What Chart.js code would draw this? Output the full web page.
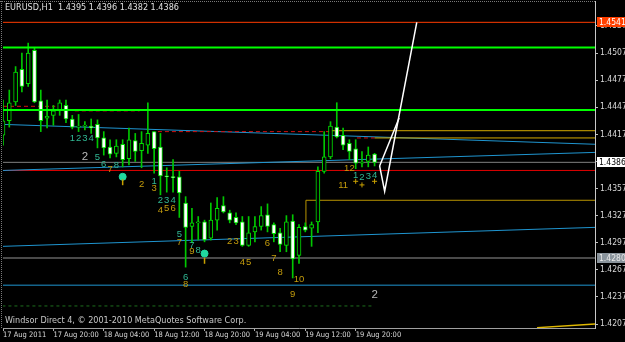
<!DOCTYPE html>
<html>
<head>
<meta charset="utf-8">
<script src="https://cdn.jsdelivr.net/npm/chart.js@4.4.1/dist/chart.umd.min.js"></script>
<style>
  html, body { margin: 0; padding: 0; background: #000; }
</style>
</head>
<body>
<canvas id="chart" width="625" height="342"></canvas>
<script>
const SYMBOL = 'EURUSD,H1';
const COPYRIGHT = 'Windsor Direct 4, \u00a9 2001-2010 MetaQuotes Software Corp.';

// ===== H1 CANDLES (bar 0 = 17 Aug 12:00) =====
const opens = [
  1.4416, 1.4432, 1.4453, 1.4489, 1.4473, 1.4510, 1.4454, 1.4435, 1.4438, 1.4444,
  1.4449, 1.4434, 1.4425, 1.4426, 1.4426, 1.4428, 1.4413, 1.4403, 1.4396, 1.4406,
  1.4390, 1.4410, 1.4399, 1.4405, 1.4420, 1.4403, 1.4371, 1.4370, 1.4370, 1.4341,
  1.4315, 1.4319, 1.4320, 1.4302, 1.4322, 1.4338, 1.4330, 1.4325, 1.4320, 1.4294,
  1.4309, 1.4315, 1.4328, 1.4317, 1.4308, 1.4294, 1.4321, 1.4283, 1.4315, 1.4313,
  1.4320, 1.4376, 1.4392, 1.4425, 1.4416, 1.4407, 1.4401, 1.4385, 1.4387, 1.4395
];
const highs = [
  1.4455, 1.4466, 1.4492, 1.4507, 1.4518, 1.4513, 1.4466, 1.4455, 1.4449, 1.4455,
  1.4455, 1.4438, 1.4439, 1.4431, 1.4434, 1.4433, 1.4420, 1.4411, 1.4411, 1.4411,
  1.4424, 1.4418, 1.4420, 1.4452, 1.4420, 1.4418, 1.4380, 1.4389, 1.4376, 1.4348,
  1.4335, 1.4326, 1.4322, 1.4341, 1.4347, 1.4348, 1.4333, 1.4330, 1.4326, 1.4326,
  1.4326, 1.4337, 1.4340, 1.4319, 1.4313, 1.4327, 1.4328, 1.4317, 1.4319, 1.4320,
  1.4381, 1.4420, 1.4431, 1.4452, 1.4424, 1.4411, 1.4411, 1.4398, 1.4403, 1.4396
];
const lows = [
  1.4405, 1.4425, 1.4449, 1.4464, 1.4470, 1.4452, 1.4420, 1.4424, 1.4427, 1.4438,
  1.4430, 1.4423, 1.4420, 1.4422, 1.4418, 1.4402, 1.4394, 1.4391, 1.4392, 1.4381,
  1.4383, 1.4387, 1.4380, 1.4396, 1.4374, 1.4350, 1.4353, 1.4353, 1.4325, 1.4270,
  1.4297, 1.4300, 1.4298, 1.4300, 1.4311, 1.4330, 1.4319, 1.4317, 1.4293, 1.4293,
  1.4298, 1.4311, 1.4309, 1.4298, 1.4287, 1.4287, 1.4258, 1.4274, 1.4309, 1.4293,
  1.4308, 1.4374, 1.4390, 1.4413, 1.4400, 1.4389, 1.4379, 1.4381, 1.4381, 1.4382
];
const closes = [
  1.4432, 1.4452, 1.4486, 1.4470, 1.4507, 1.4453, 1.4432, 1.4437, 1.4443, 1.4452,
  1.4434, 1.4425, 1.4426, 1.4426, 1.4424, 1.4413, 1.4402, 1.4395, 1.4404, 1.4389,
  1.4411, 1.4398, 1.4407, 1.4418, 1.4401, 1.4371, 1.4370, 1.4369, 1.4352, 1.4314,
  1.4319, 1.4319, 1.4300, 1.4322, 1.4335, 1.4331, 1.4322, 1.4319, 1.4294, 1.4308,
  1.4315, 1.4327, 1.4315, 1.4307, 1.4295, 1.4320, 1.4279, 1.4314, 1.4311, 1.4317,
  1.4376, 1.4392, 1.4426, 1.4414, 1.4405, 1.4398, 1.4385, 1.4385, 1.4394, 1.4386
];

// ===== AXES =====
const timeTicks = [0, 8, 16, 24, 32, 40, 48, 56];
const timeLabels = ['17 Aug 2011', '17 Aug 20:00', '18 Aug 04:00', '18 Aug 12:00',
  '18 Aug 20:00', '19 Aug 04:00', '19 Aug 12:00', '19 Aug 20:00'];
const priceTicks = [1.4207, 1.4237, 1.4267, 1.4297, 1.4327, 1.4357, 1.4387,
  1.4417, 1.4447, 1.4477, 1.4507, 1.4537];
const barRange = [0, 94];
const priceRange = [1.42026, 1.45646];

// ===== OBJECTS / INDICATORS =====
const targetLevel = 1.4541;
const greenLevels = [1.4513, 1.4444];
const redLevel = 1.4377;
const grayLevel = 1.4280;
const blueLevel = 1.4250;
const greenDashLevel = 1.4227;
const greenDashEnd = 58.6;
// [from bar, to bar, price]
const redSteps = [[0, 8.3, 1.4448], [11.4, 21.7, 1.4443], [24.6, 51.9, 1.4420], [56.2, 59, 1.4413]];
const goldSteps = [[52, 94, 1.4421], [59, 94, 1.4413]];
const goldLowX = [48.1, 48.1, 94];
const goldLowY = [1.4312, 1.4344, 1.4344];
const goldEdgeX = [84.8, 94];
const goldEdgeY = [1.4203, 1.4207];
// sloped lines: [bar, price] at both ends
const blueUpper = [[0, 1.4428], [94, 1.4406]];
const blueMiddle = [[0, 1.4377], [94, 1.4397]];
const blueLower = [[0, 1.4293], [94, 1.4314]];
// hand drawn forecast
const projX = [59.8, 60.6, 65.7];
const projY = [1.4382, 1.4354, 1.4541];
const proj2X = [59.8, 62.9];
const proj2Y = [1.4382, 1.4435];

// ===== COUNT LABELS: [text, bar, price] =====
const tealLabels = [
  ['1', 11, 1.4412], ['2', 12, 1.4412], ['3', 13, 1.4412], ['4', 14, 1.4412],
  ['5', 15, 1.4391], ['6', 16, 1.4384], ['8', 18, 1.4383],
  ['1', 24, 1.4365], ['2', 25, 1.4344], ['3', 26, 1.4344], ['4', 27, 1.4344],
  ['5', 28, 1.4306], ['6', 29, 1.4259], ['7', 30, 1.4294], ['8', 31, 1.4288],
  ['1', 56, 1.4372], ['2', 57, 1.4369], ['3', 58, 1.4370], ['4', 59, 1.4372]
];
const goldLabels = [
  ['7', 17, 1.4378], ['2', 22, 1.4362], ['3', 24, 1.4357],
  ['4', 25, 1.4333], ['5', 26, 1.4335], ['6', 27, 1.4335],
  ['7', 28, 1.4297], ['8', 29, 1.4251], ['9', 30, 1.4287],
  ['2', 36, 1.4299], ['3', 37, 1.4299], ['4', 38, 1.4275], ['5', 39, 1.4275],
  ['6', 42, 1.4296], ['7', 43, 1.4280], ['8', 44, 1.4264], ['9', 46, 1.4240],
  ['10', 47, 1.4256], ['11', 54, 1.4360], ['12', 55, 1.4379]
];
const grayLabels = [['2', 13, 1.4392], ['2', 59, 1.4239]];
const pinBars = [19, 32];
const pinPrices = [1.4370, 1.4285];
const pinStemPrices = [1.4364, 1.4277];
const crossBars = [56, 57, 59];
const crossPrices = [1.4365, 1.4361, 1.4365];

// ===== BUILD =====
const last = opens.length - 1;
const bidLevel = closes[last];
const FONT = '"Liberation Sans Narrow", "DejaVu Sans Condensed", "Liberation Sans", sans-serif';

const seg = (x0, x1, y) => [{ x: x0, y: y }, { x: x1, y: y }];
const pts = (xs, ys) => xs.map((v, i) => ({ x: v, y: ys[i] }));
const lineDs = (data, color, width, order, extra) => Object.assign({
  type: 'line', data: data, borderColor: color, borderWidth: width,
  pointRadius: 0, fill: false, tension: 0, order: order, spanGaps: false
}, extra || {});

const full = (y) => seg(barRange[0] - 2, barRange[1] + 2, y);

let redStepData = [];
redSteps.forEach(([a, b, p]) => {
  redStepData.push({ x: a, y: p }, { x: b, y: p }, { x: b, y: null });
});

const bodyData = opens.map((o, i) => ({ x: i, y: [o, closes[i]] }));
const wickData = opens.map((o, i) => ({ x: i, y: [lows[i], highs[i]] }));
const bodyFill = opens.map((o, i) => closes[i] >= o ? '#000000' : '#ffffff');

const datasets = [
  lineDs(pts(projX, projY), '#ffffff', 1.5, 0),
  lineDs(pts(proj2X, proj2Y), '#ffffff', 1.5, 0),
  lineDs(pts(pinBars, pinStemPrices), '#c8a000', 1.5, 0,
    { showLine: false, pointRadius: 3, pointStyle: 'line', rotation: 90, pointBorderColor: '#c8a000', pointBorderWidth: 1.5 }),
  lineDs(pts(pinBars, pinPrices), '#20d8a0', 1, 0,
    { showLine: false, pointRadius: 3.5, pointStyle: 'circle', pointBackgroundColor: '#20d8a0', pointBorderColor: '#20d8a0' }),
  lineDs(pts(crossBars, crossPrices), '#c8a000', 1, 0,
    { showLine: false, pointRadius: 2.5, pointStyle: 'cross', pointBorderColor: '#c8a000', pointBorderWidth: 1 }),
  lineDs(full(targetLevel), '#ff3c00', 1, 1),
  ...greenLevels.map(v => lineDs(full(v), '#00ff00', 2, 1)),
  {
    type: 'bar', data: bodyData, backgroundColor: bodyFill, borderColor: '#00e000',
    borderWidth: 1, borderSkipped: false, barThickness: 4, grouped: false,
    minBarLength: 1, order: 2
  },
  {
    type: 'bar', data: wickData, backgroundColor: '#00c800', borderWidth: 0,
    barThickness: 1, grouped: false, order: 3
  },
  lineDs(redStepData, '#d01010', 1, 4, { borderDash: [4, 3] }),
  ...goldSteps.map(([a, b, p]) => lineDs(seg(a, b, p), '#d4aa00', 1, 4)),
  lineDs(pts(goldLowX, goldLowY), '#b89400', 1, 4),
  lineDs(pts(goldEdgeX, goldEdgeY), '#e0b800', 1.5, 4),
  lineDs(blueUpper.map(([b, p]) => ({ x: b, y: p })), '#1f95d0', 1, 4),
  lineDs(blueMiddle.map(([b, p]) => ({ x: b, y: p })), '#1f95d0', 1, 4),
  lineDs(blueLower.map(([b, p]) => ({ x: b, y: p })), '#1f95d0', 1, 4),
  lineDs(full(blueLevel), '#1f95d0', 1, 4),
  lineDs(full(redLevel), '#e00000', 1, 4),
  lineDs(full(bidLevel), '#808080', 1, 5),
  lineDs(full(grayLevel), '#4a4a4a', 2, 5),
  lineDs(seg(barRange[0] - 2, greenDashEnd, greenDashLevel), '#1c6e1c', 1, 5, { borderDash: [3, 3] })
];

// ===== OVERLAY: frame, counts, header, price boxes =====
const overlay = {
  id: 'overlay',
  beforeDraw(chart) {
    const ctx = chart.ctx;
    ctx.save();
    ctx.fillStyle = '#000000';
    ctx.fillRect(0, 0, chart.width, chart.height);
    ctx.restore();
  },
  afterDraw(chart) {
    const { ctx, chartArea: a, scales: { x, y } } = chart;
    ctx.save();

    ctx.strokeStyle = '#7a7a7a';
    ctx.lineWidth = 1;
    ctx.setLineDash([1, 1]);
    ctx.beginPath();
    ctx.moveTo(0, a.top + 0.5); ctx.lineTo(a.right, a.top + 0.5);
    ctx.moveTo(a.left - 1.5, a.top); ctx.lineTo(a.left - 1.5, a.bottom);
    ctx.stroke();
    ctx.setLineDash([]);

    ctx.textAlign = 'center';
    ctx.textBaseline = 'middle';
    const put = (list, color, font) => {
      ctx.fillStyle = color;
      ctx.font = font;
      list.forEach(([t, b, p]) => ctx.fillText(t, x.getPixelForValue(b), y.getPixelForValue(p)));
    };
    put(tealLabels, '#30b894', '9.5px "Liberation Sans", sans-serif');
    put(goldLabels, '#c49c0c', '9.5px "Liberation Sans", sans-serif');
    put(grayLabels, '#b8b8b8', '11.5px "Liberation Sans", sans-serif');

    ctx.textAlign = 'left';
    ctx.fillStyle = '#e0e0e0';
    ctx.font = '9px ' + FONT;
    const fmt = v => v.toFixed(4);
    ctx.fillText(SYMBOL + '  ' + fmt(opens[last]) + ' ' + fmt(highs[last]) + ' ' +
      fmt(lows[last]) + ' ' + fmt(closes[last]), 5, 8);
    ctx.fillStyle = '#c8c8c8';
    ctx.fillText(COPYRIGHT, 5, 321);

    const box = (v, bg, fg) => {
      const py = Math.round(y.getPixelForValue(v));
      ctx.fillStyle = bg;
      ctx.fillRect(a.right + 2, py - 5, chart.width - a.right - 2, 10);
      ctx.fillStyle = fg;
      ctx.font = '8.5px ' + FONT;
      ctx.fillText(fmt(v), a.right + 4, py + 0.5);
    };
    box(targetLevel, '#ff4000', '#ffffff');
    box(bidLevel, '#ffffff', '#000000');
    box(grayLevel, '#8a949c', '#e8e8e8');
    ctx.restore();
  }
};

const noPad = s => { s.paddingTop = 0; s.paddingBottom = 0; s.paddingLeft = 0; s.paddingRight = 0; };

new Chart(document.getElementById('chart'), {
  type: 'bar',
  data: { datasets: datasets },
  plugins: [overlay],
  options: {
    responsive: false,
    animation: false,
    devicePixelRatio: 1,
    layout: { autoPadding: false, padding: { left: 3, top: 1, right: 0, bottom: 0 } },
    plugins: { legend: { display: false }, tooltip: { enabled: false } },
    scales: {
      x: {
        type: 'linear', min: barRange[0], max: barRange[1], offset: false,
        afterBuildTicks: s => { s.ticks = timeTicks.map(v => ({ value: v })); },
        afterFit: s => { s.height = 14; noPad(s); },
        ticks: {
          autoSkip: false, maxRotation: 0, align: 'start', padding: 0,
          color: '#d8d8d8', font: { family: FONT, size: 7.5 },
          callback: (v, i) => timeLabels[i]
        },
        grid: { offset: false, drawOnChartArea: false, tickLength: 3, color: '#b0b0b0' },
        border: { color: '#a0a0a0' }
      },
      y: {
        type: 'linear', position: 'right', min: priceRange[0], max: priceRange[1],
        afterBuildTicks: s => { s.ticks = priceTicks.map(v => ({ value: v })); },
        afterFit: s => { s.width = 30; noPad(s); },
        ticks: {
          padding: 2, color: '#d8d8d8', font: { family: FONT, size: 8.5 },
          callback: v => v.toFixed(4)
        },
        grid: { drawOnChartArea: false, tickLength: 3, color: '#c0c0c0' },
        border: { color: '#c8c8c8' }
      }
    }
  }
});
</script>
</body>
</html>
